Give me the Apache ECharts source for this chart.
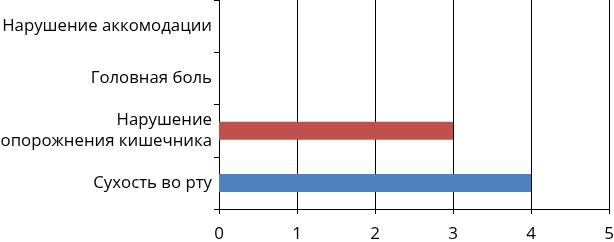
<!DOCTYPE html>
<html>
<head>
<meta charset="utf-8">
<script src="https://cdn.jsdelivr.net/npm/echarts@6/dist/echarts.min.js"></script>
<style>html,body{margin:0;padding:0;background:#fff;}#c{width:614px;height:242px;}</style>
</head>
<body>
<div id="c"></div>
<script>
const categories = ['Сухость во рту', 'Нарушение\nопорожнения кишечника', 'Головная боль', 'Нарушение аккомодации'];
const values = [4, 3, 0, 0];
const barColors = ['#4F81BD', '#C0504D', '#9BBB59', '#8064A2'];
const xTicks = [0, 1, 2, 3, 4, 5];

const font = '"Open Sans", sans-serif';
const chart = echarts.init(document.getElementById('c'), null, {renderer: 'canvas'});
chart.setOption({
  animation: false,
  backgroundColor: '#fff',
  grid: {left: 219, right: 5, top: 0, bottom: 33, containLabel: false, outerBoundsMode: 'none'},
  xAxis: {
    type: 'value', min: xTicks[0], max: xTicks[xTicks.length - 1], interval: 1,
    axisLine: {show: true, lineStyle: {color: '#000', width: 1}},
    axisTick: {show: true, length: 5, lineStyle: {color: '#000'}},
    splitLine: {show: true, lineStyle: {color: '#000', width: 1}},
    axisLabel: {color: '#000', fontSize: 17, fontFamily: font, margin: 17}
  },
  yAxis: {
    type: 'category', data: categories,
    axisLine: {show: true, lineStyle: {color: '#000', width: 1}},
    axisTick: {show: true, length: 5, lineStyle: {color: '#000'}},
    axisLabel: {color: '#000', fontSize: 16.8, fontFamily: font, margin: 7, lineHeight: 21, align: 'right'}
  },
  series: [{
    type: 'bar',
    data: values.map((v, i) => ({value: v, itemStyle: {color: barColors[i]}})),
    barWidth: 18
  }]
});
</script>
</body>
</html>
